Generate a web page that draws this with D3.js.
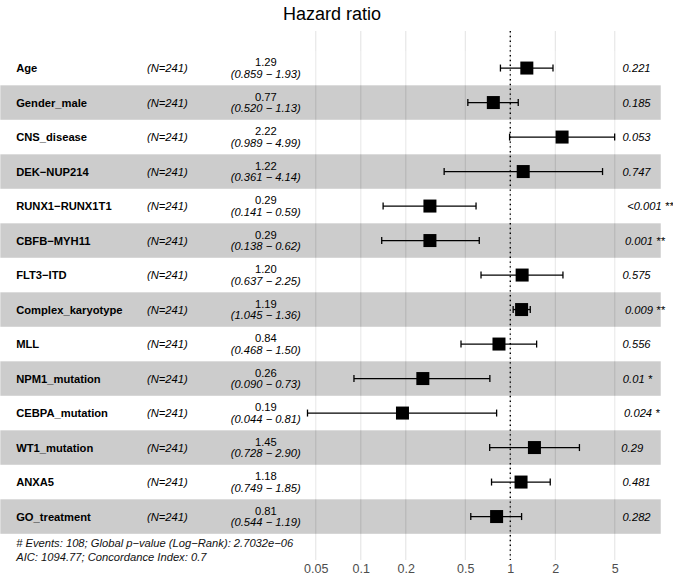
<!DOCTYPE html>
<html>
<head>
<meta charset="utf-8">
<script src="https://cdn.jsdelivr.net/npm/d3@7"></script>
<style>
  html, body { margin: 0; padding: 0; background: #fff; }
  svg text { font-family: "Liberation Sans", Arial, Helvetica, sans-serif; }
</style>
</head>
<body>
<svg id="chart" width="673" height="577"></svg>
<script>
// ---- data ----
const variables = ["Age", "Gender_male", "CNS_disease", "DEK\u2212NUP214", "RUNX1\u2212RUNX1T1",
  "CBFB\u2212MYH11", "FLT3\u2212ITD", "Complex_karyotype", "MLL", "NPM1_mutation",
  "CEBPA_mutation", "WT1_mutation", "ANXA5", "GO_treatment"];
const nLabels = ["(N=241)", "(N=241)", "(N=241)", "(N=241)", "(N=241)", "(N=241)", "(N=241)",
  "(N=241)", "(N=241)", "(N=241)", "(N=241)", "(N=241)", "(N=241)", "(N=241)"];
const hr = [1.29, 0.77, 2.22, 1.22, 0.29, 0.29, 1.20, 1.19, 0.84, 0.26, 0.19, 1.45, 1.18, 0.81];
const hrText = ["1.29", "0.77", "2.22", "1.22", "0.29", "0.29", "1.20", "1.19", "0.84", "0.26", "0.19", "1.45", "1.18", "0.81"];
const ciLow = [0.859, 0.520, 0.989, 0.361, 0.141, 0.138, 0.637, 1.045, 0.468, 0.090, 0.044, 0.728, 0.749, 0.544];
const ciHigh = [1.93, 1.13, 4.99, 4.14, 0.59, 0.62, 2.25, 1.36, 1.50, 0.73, 0.81, 2.90, 1.85, 1.19];
const ciLowText = ["0.859", "0.520", "0.989", "0.361", "0.141", "0.138", "0.637", "1.045", "0.468", "0.090", "0.044", "0.728", "0.749", "0.544"];
const ciHighText = ["1.93", "1.13", "4.99", "4.14", "0.59", "0.62", "2.25", "1.36", "1.50", "0.73", "0.81", "2.90", "1.85", "1.19"];
const pValues = ["0.221", "0.185", "0.053", "0.747", "<0.001 ***", "0.001 **", "0.575", "0.009 **",
  "0.556", "0.01 *", "0.024 *", "0.29", "0.481", "0.282"];
const tickValues = [0.05, 0.1, 0.2, 0.5, 1, 2, 5];
const tickLabels = ["0.05", "0.1", "0.2", "0.5", "1", "2", "5"];
const title = "Hazard ratio";
const footer = ["# Events: 108; Global p\u2212value (Log\u2212Rank): 2.7032e\u221206",
  "AIC: 1094.77; Concordance Index: 0.7"];

// ---- layout ----
const svg = d3.select("#chart");
const x = d3.scaleLog().domain([0.01, 10]).range([211.3, 659.8]);
const y = d3.scaleBand().domain(d3.range(variables.length)).range([50.8, 533.8]).paddingInner(0).paddingOuter(0);
const gridTop = 31, gridBottom = 560;
const fs = 11.2;

// plot range (as in ggforest)
const lo = Math.log(d3.min(ciLow)), hi = Math.log(d3.max(ciHigh));
const span = hi - lo;
const rangePlot = [Math.exp(lo - span), Math.exp(hi + 0.15 * span)];
const px0 = x(rangePlot[0]), px1 = x(rangePlot[1]);
const colVar = px0 + (px1 - px0) * 0.024;
const colN = px0 + (px1 - px0) * 0.222;
const colEst = px0 + (px1 - px0) * 0.402;
const colP = 617;

// gridlines
svg.append("g").selectAll("line").data(tickValues).join("line")
  .attr("x1", d => x(d)).attr("x2", d => x(d))
  .attr("y1", gridTop).attr("y2", gridBottom)
  .attr("stroke", "#e2e2e2").attr("stroke-width", 1);

// bands
svg.append("g").selectAll("rect").data(d3.range(variables.length)).join("rect")
  .attr("x", px0).attr("width", px1 - px0)
  .attr("y", i => y(i)).attr("height", y.bandwidth())
  .attr("fill", i => i % 2 === 1 ? "rgba(0,0,0,0.2)" : "rgba(255,255,255,0.2)");

// reference line at 1
svg.append("line")
  .attr("x1", x(1)).attr("x2", x(1)).attr("y1", gridTop).attr("y2", gridBottom)
  .attr("stroke", "#000").attr("stroke-width", 1.4).attr("stroke-dasharray", "1.4,3.4");

// text columns
const rows = svg.append("g").selectAll("g").data(d3.range(variables.length)).join("g")
  .attr("transform", i => `translate(0,${y(i) + y.bandwidth() / 2})`);

rows.append("text").attr("x", colVar).attr("y", 4).attr("font-size", fs).attr("font-weight", "bold")
  .attr("fill", "#000").text(i => variables[i]);
rows.append("text").attr("x", colN).attr("y", 4).attr("font-size", fs).attr("font-style", "italic")
  .attr("fill", "#000").text(i => nLabels[i]);
rows.append("text").attr("x", colEst).attr("y", -2).attr("font-size", fs).attr("text-anchor", "middle")
  .attr("fill", "#000").text(i => hrText[i]);
rows.append("text").attr("x", colEst).attr("y", 9.5).attr("font-size", fs).attr("text-anchor", "middle")
  .attr("font-style", "italic").attr("fill", "#000")
  .text(i => `(${ciLowText[i]} \u2212 ${ciHighText[i]})`);
// p-values: hjust = -0.2 as in ggforest
rows.append("text").attr("y", 4).attr("font-size", fs).attr("font-style", "italic")
  .attr("fill", "#000").text(i => pValues[i])
  .attr("x", function () { return colP + 0.2 * this.getComputedTextLength(); });

// error bars
const capH = 3.5;
rows.append("line").attr("x1", i => x(ciLow[i])).attr("x2", i => x(ciHigh[i]))
  .attr("y1", 0).attr("y2", 0).attr("stroke", "#000").attr("stroke-width", 1.3);
rows.append("line").attr("x1", i => x(ciLow[i])).attr("x2", i => x(ciLow[i]))
  .attr("y1", -capH).attr("y2", capH).attr("stroke", "#000").attr("stroke-width", 1.3);
rows.append("line").attr("x1", i => x(ciHigh[i])).attr("x2", i => x(ciHigh[i]))
  .attr("y1", -capH).attr("y2", capH).attr("stroke", "#000").attr("stroke-width", 1.3);
const sq = 13;
rows.append("rect").attr("x", i => x(hr[i]) - sq / 2).attr("y", -sq / 2)
  .attr("width", sq).attr("height", sq).attr("fill", "#000");

// axis
const axis = d3.axisBottom(x).tickValues(tickValues).tickSize(0)
  .tickFormat((d, i) => tickLabels[i]);
const ax = svg.append("g").attr("transform", `translate(0,${gridBottom})`).call(axis);
ax.select(".domain").remove();
ax.selectAll("text").attr("font-size", 12.5).attr("fill", "#4d4d4d")
  .attr("font-family", "Liberation Sans, Arial, sans-serif").attr("dy", "1.05em").attr("y", 0);

// title
svg.append("text").attr("x", 332).attr("y", 20).attr("text-anchor", "middle")
  .attr("font-size", 18).attr("fill", "#000").text(title);

// footer
svg.append("g").selectAll("text").data(footer).join("text")
  .attr("x", colVar).attr("y", (d, i) => 547 + i * 14).attr("font-size", fs)
  .attr("font-style", "italic").attr("fill", "#111").text(d => d);
</script>
</body>
</html>
